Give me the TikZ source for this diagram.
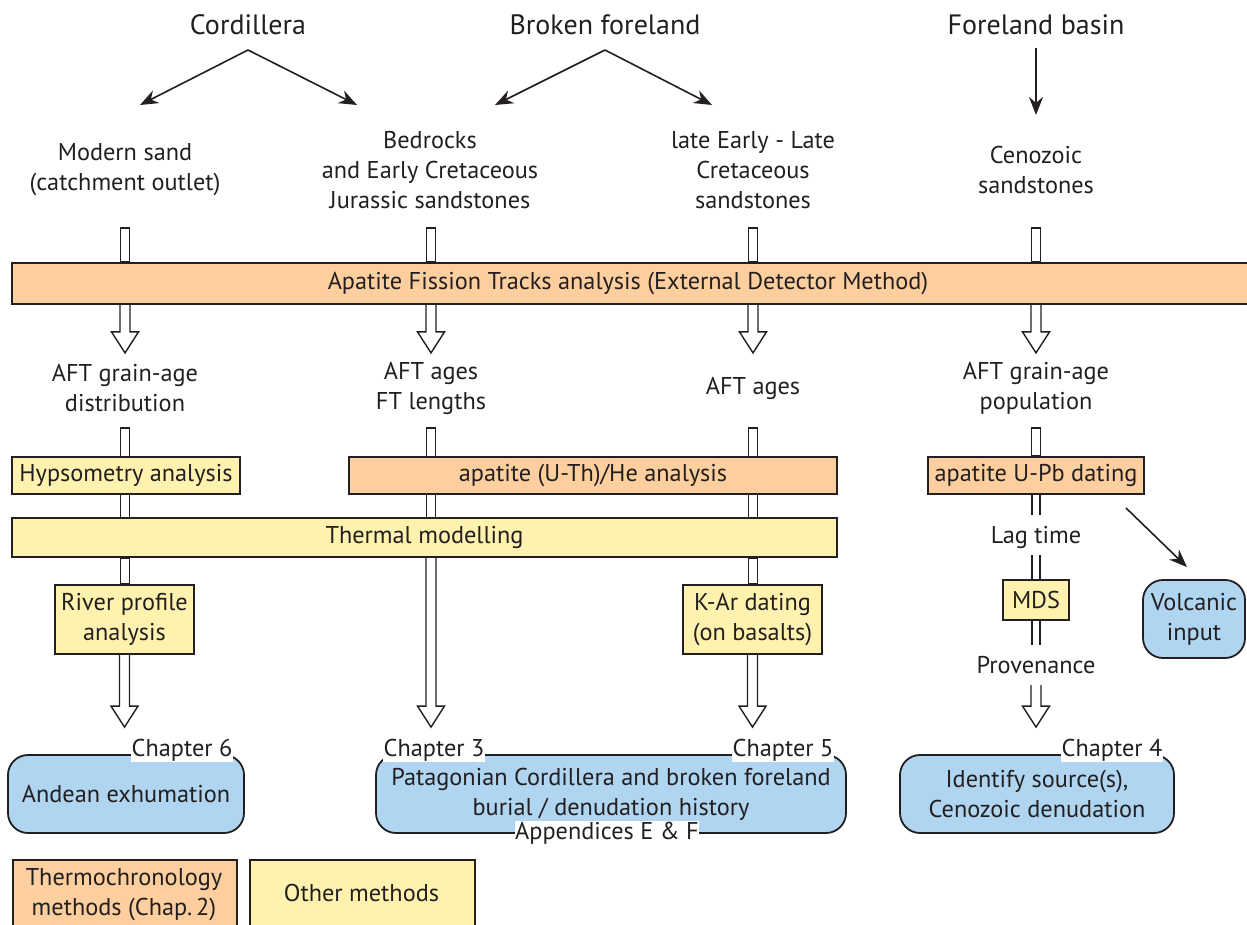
\documentclass[tikz,border=0pt]{standalone}
\usepackage{fontspec}
\setmainfont{PT Sans}
\usetikzlibrary{arrows.meta,calc,backgrounds}
\definecolor{cOr}{RGB}{253,207,158}
\definecolor{cYe}{RGB}{255,242,174}
\definecolor{cBl}{RGB}{176,213,240}
\definecolor{ink}{RGB}{35,31,32}
\tikzset{
  base/.style={font=\fontsize{24.3}{30}\selectfont, align=center, text=ink},
  ttl/.style={font=\fontsize{28}{30}\selectfont, text=ink},
  box/.style={base, draw=ink, line width=1.8pt, inner sep=0pt},
  orbox/.style={box, fill=cOr},
  yebox/.style={box, fill=cYe},
  blbox/.style={box, fill=cBl, rounded corners=20pt},
  hollow/.style={draw=ink, line width=1.4pt, fill=white},
  arr/.style={draw=ink, line width=1.6pt, -{Stealth[length=18pt,width=14pt]}},
  chap/.style={base, fill=white, inner sep=0.5pt},
}
\newcommand\harrow[2]{\draw[hollow] let \p1=(#1), \p2=(#2) in
  (\x1-5pt,\y1) -- (\x1-5pt,\y2+21pt) -- (\x1-13.5pt,\y2+21pt) -- (\x1,\y2)
  -- (\x1+13.5pt,\y2+21pt) -- (\x1+5pt,\y2+21pt) -- (\x1+5pt,\y1);}
\newcommand\hshaft[2]{\draw[hollow] let \p1=(#1), \p2=(#2) in
  (\x1-4.5pt,\y1) rectangle (\x1+4.5pt,\y2);}
\newcommand\oshaft[2]{\draw[draw=ink, line width=1.4pt] let \p1=(#1), \p2=(#2) in
  (\x1-4pt,\y1) -- (\x1-4pt,\y2) (\x1+4pt,\y1) -- (\x1+4pt,\y2);}
\begin{document}
\begin{tikzpicture}[x=1pt,y=-1pt]
\useasboundingbox (0,0) rectangle (1247,925);
% titles
\node[ttl] (t1) at (248,25) {Cordillera};
\node[ttl] (t2) at (605,25) {Broken foreland};
\node[ttl] (t3) at (1036,25) {Foreland basin};
% sources
\node[base] (s1) at (125,170) {Modern sand\\(catchment outlet)};
\node[base] (s2) at (430,170) {Bedrocks\\and Early Cretaceous\\Jurassic sandstones};
\node[base] (s3) at (753,170) {late Early - Late\\Cretaceous\\sandstones};
\node[base] (s4) at (1036,170) {Cenozoic\\sandstones};
\coordinate (c1) at (125,228);
\coordinate (c2) at (431,228);
\coordinate (c3) at (753,228);
\coordinate (c4) at (1036,228);
% AFT box
\node[orbox, minimum width=1250pt, minimum height=41pt,
  label={[base, xshift=-9pt]center:Apatite Fission Tracks analysis (External Detector Method)}]
  (aft) at (637,283.5) {};
% results
\node[base] (r1) at (125,388) {AFT grain-age\\distribution};
\node[base] (r2) at (431,388) {AFT ages\\FT lengths};
\node[base] (r3) at (753,388) {AFT ages};
\node[base] (r4) at (1036,388) {AFT grain-age\\population};
\coordinate (d1) at (125,428);
\coordinate (d2) at (431,428);
\coordinate (d3) at (753,428);
\coordinate (d4) at (1036,428);
% method boxes
\node[yebox, minimum width=228pt, minimum height=37pt] (hyp) at (126,475.5) {Hypsometry analysis};
\node[orbox, minimum width=488pt, minimum height=37pt] (he) at (593,475.5) {apatite (U-Th)/He analysis};
\node[orbox, minimum width=216pt, minimum height=37pt] (upb) at (1036,475.5) {apatite U-Pb dating};
\node[yebox, minimum width=825pt, minimum height=39pt] (therm) at (424.5,537.5) {Thermal modelling};
\node[yebox, minimum width=139pt, minimum height=69pt] (riv) at (124.5,619.5) {River profile\\analysis};
\node[yebox, minimum width=139pt, minimum height=69pt] (kar) at (752.5,619.5) {K-Ar dating\\(on basalts)};
\node[base] (lag) at (1036,537) {Lag time};
\node[yebox, minimum width=66pt, minimum height=40pt] (mds) at (1036,600) {MDS};
\node[base] (prov) at (1036,665) {Provenance};
\node[blbox, minimum width=102pt, minimum height=78pt] (volc) at (1194,619) {Volcanic\\input};
% outcome boxes
\node[blbox, minimum width=236pt, minimum height=78pt] (and) at (126,794) {Andean exhumation};
\node[blbox, minimum width=470pt, minimum height=78pt] (pat) at (611,794) {Patagonian Cordillera and broken foreland\\burial / denudation history};
\node[blbox, minimum width=274pt, minimum height=78pt] (idf) at (1037,794) {Identify source(s),\\Cenozoic denudation};
\node[chap] (ch6) at (182,750) {Chapter 6};
\node[chap] (ch3) at (434,750) {Chapter 3};
\node[chap] (ch5) at (783,750) {Chapter 5};
\node[chap] (ch4) at (1112,750) {Chapter 4};
\node[chap] (app) at (607,833) {Appendices E \& F};
% legend
\node[orbox, minimum width=224pt, minimum height=76pt, anchor=north west] (lg1) at (12,859) {};
\node[base] at (124,895) {Thermochronology\\methods (Chap.\,2)};
\node[yebox, minimum width=225pt, minimum height=76pt, anchor=north west] (lg2) at (249,859) {};
\node[base] at (361.5,893) {Other methods};
% thin arrows
\draw[arr] ([yshift=-25pt]t1.center) -- ([xshift=15pt,yshift=65pt]s1.center);
\draw[arr] ([yshift=-25pt]t1.center) -- ([xshift=-73pt,yshift=65pt]s2.center);
\draw[arr] ([yshift=-25pt]t2.center) -- ([xshift=65pt,yshift=65pt]s2.center);
\draw[arr] ([yshift=-25pt]t2.center) -- ([xshift=-41pt,yshift=65pt]s3.center);
\draw[arr] ([yshift=-23pt]t3.center) -- ([yshift=55pt]s4.center);
\draw[arr] ($(upb.south east)+(-19,13)$) -- ($(volc.north)+(-7,-12)$);
% hollow connectors
\begin{scope}[on background layer]
  \hshaft{c1}{aft.north}
  \hshaft{c2}{aft.north}
  \hshaft{c3}{aft.north}
  \hshaft{c4}{aft.north}
  \harrow{aft.south -| c1}{[yshift=-48pt]aft.south}
  \harrow{aft.south -| c2}{[yshift=-48pt]aft.south}
  \harrow{aft.south -| c3}{[yshift=-48pt]aft.south}
  \harrow{aft.south -| c4}{[yshift=-48pt]aft.south}
  \hshaft{d1}{therm.south}
  \hshaft{therm.south -| d1}{riv.north}
  \hshaft{d2}{therm.south}
  \hshaft{d3}{therm.south}
  \hshaft{therm.south -| d3}{kar.north}
  \hshaft{d4}{upb.north}
  \oshaft{upb.south}{[yshift=22pt]lag.center}
  \oshaft{[yshift=-18pt]lag.center}{mds.north}
  \oshaft{mds.south}{[yshift=20pt]prov.center}
  \harrow{riv.south}{[yshift=27pt]and.north}
  \harrow{therm.south -| d2}{[yshift=27pt]pat.north}
  \harrow{kar.south}{[yshift=27pt]pat.north}
  \harrow{[yshift=-20pt]prov.center}{[yshift=27pt]idf.north}
\end{scope}
\end{tikzpicture}
\end{document}
